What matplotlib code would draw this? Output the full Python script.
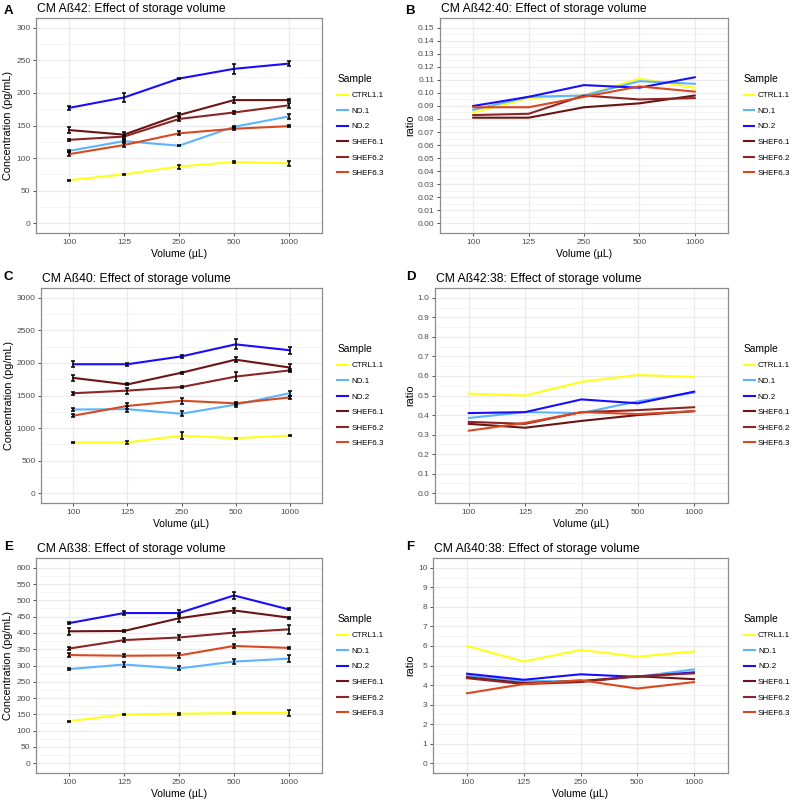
import numpy as np
import matplotlib
matplotlib.use("Agg")
import matplotlib.pyplot as plt

plt.rcParams['font.family'] = ['Liberation Sans', 'DejaVu Sans']

# dane
volumes = ["100", "125", "250", "500", "1000"]
samples = ["CTRL1.1", "ND.1", "ND.2", "SHEF6.1", "SHEF6.2", "SHEF6.3"]
colors = ["#FFFF1A", "#5DB3FF", "#1A0DFF", "#6B1414", "#8C2525", "#D9481F"]

# A: Ab42 (pg/mL)
ab42 = [
    [66, 75, 87, 94, 92],
    [111, 126, 119, 148, 164],
    [177, 193, 222, 237, 245],
    [143, 136, 166, 189, 189],
    [128, 133, 160, 170, 181],
    [106, 120, 138, 145, 149],
]
ab42_err = [
    [1, 1, 3, 1, 4],
    [2, 2, 1, 2, 4],
    [3, 7, 1, 8, 4],
    [4, 4, 3, 5, 2],
    [2, 3, 3, 2, 4],
    [3, 3, 3, 2, 2],
]

# B: Ab42:40
r42_40 = [
    [0.085, 0.096, 0.098, 0.111, 0.104],
    [0.087, 0.097, 0.098, 0.109, 0.107],
    [0.090, 0.097, 0.106, 0.104, 0.112],
    [0.081, 0.081, 0.089, 0.092, 0.098],
    [0.083, 0.084, 0.098, 0.095, 0.096],
    [0.089, 0.089, 0.097, 0.105, 0.101],
]

# C: Ab40 (pg/mL)
ab40 = [
    [780, 780, 885, 845, 885],
    [1285, 1290, 1220, 1360, 1535],
    [1980, 1980, 2100, 2285, 2195],
    [1770, 1670, 1850, 2050, 1930],
    [1535, 1575, 1630, 1790, 1885],
    [1190, 1340, 1420, 1380, 1470],
]
ab40_err = [
    [10, 25, 55, 10, 10],
    [25, 50, 35, 30, 35],
    [45, 20, 25, 75, 55],
    [40, 15, 15, 35, 55],
    [20, 45, 15, 75, 25],
    [20, 45, 45, 20, 25],
]

# D: Ab42:38
r42_38 = [
    [0.51, 0.50, 0.57, 0.605, 0.595],
    [0.385, 0.415, 0.41, 0.47, 0.515],
    [0.41, 0.415, 0.48, 0.46, 0.52],
    [0.355, 0.335, 0.37, 0.40, 0.42],
    [0.365, 0.355, 0.415, 0.425, 0.44],
    [0.32, 0.36, 0.415, 0.405, 0.42],
]

# E: Ab38 (pg/mL)
ab38 = [
    [129, 150, 152, 154, 154],
    [289, 303, 291, 312, 321],
    [430, 461, 461, 515, 472],
    [405, 406, 445, 469, 447],
    [352, 378, 386, 401, 411],
    [332, 330, 331, 360, 354],
]
ab38_err = [
    [2, 2, 3, 4, 9],
    [2, 8, 6, 7, 11],
    [3, 6, 10, 12, 3],
    [11, 2, 12, 8, 3],
    [4, 7, 9, 10, 14],
    [6, 5, 8, 7, 2],
]

# F: Ab40:38
r40_38 = [
    [6.0, 5.2, 5.8, 5.45, 5.72],
    [4.48, 4.2, 4.2, 4.42, 4.8],
    [4.58, 4.27, 4.55, 4.42, 4.65],
    [4.4, 4.1, 4.2, 4.45, 4.3],
    [4.35, 4.05, 4.15, 4.45, 4.6],
    [3.58, 4.05, 4.25, 3.82, 4.15],
]

W, H = 797, 801
fig = plt.figure(figsize=(W / 100, H / 100), dpi=100)


def px_axes(left, right, top, bottom):
    return fig.add_axes([left / W, 1 - bottom / H, (right - left) / W, (bottom - top) / H])


def panel(ax, letter, lpos, title, data, ylabel, ymax, ystep, fmt, err=None):
    x = np.arange(1, len(volumes) + 1)
    for i, s in enumerate(samples):
        ax.plot(x, data[i], color=colors[i], lw=1.5, label=s, zorder=3)
    if err is not None:
        for i in range(len(samples)):
            ax.errorbar(x, data[i], yerr=err[i], fmt="none", ecolor="black",
                        elinewidth=1.1, capsize=1.6, capthick=1.1, zorder=4)
    ax.set_xlim(0.4, 5.6)
    pad = ymax * 0.05
    ax.set_ylim(-pad, ymax + pad)
    ax.set_xticks(x)
    ax.set_xticklabels(volumes)
    yt = np.arange(0, ymax + ystep / 2, ystep)
    ax.set_yticks(yt)
    ax.set_yticklabels([fmt.format(v) for v in yt])
    ax.set_yticks(yt[:-1] + ystep / 2, minor=True)
    ax.grid(True, which="major", color="#EBEBEB", lw=0.9, zorder=0)
    ax.grid(True, which="minor", axis="y", color="#F2F2F2", lw=0.5, zorder=0)
    ax.set_axisbelow(True)
    ax.tick_params(axis="both", which="major", length=2.5, width=0.6, color="#333333",
                   labelsize=6.0, labelcolor="#4D4D4D", pad=1.5)
    ax.tick_params(axis="y", which="minor", length=0)
    for sp in ax.spines.values():
        sp.set_color("#8C8C8C")
        sp.set_linewidth(0.9)
    ax.set_xlabel("Volume (\u00b5L)", fontsize=7.5, labelpad=2.5)
    ax.set_ylabel(ylabel, fontsize=7.8, labelpad=2)
    ax.set_title(title, fontsize=8.7, loc="left", pad=4, x=0.005)
    fig.text(lpos[0] / W, 1 - lpos[1] / H, letter, fontsize=9.5, fontweight="bold",
             va="center", ha="left")
    leg = ax.legend(loc="center left", bbox_to_anchor=(1.04, 0.5), frameon=False,
                    title="Sample", fontsize=5.8, title_fontsize=7.4, handlelength=1.35,
                    handletextpad=0.4, labelspacing=0.98, borderpad=0)
    leg._legend_box.align = "left"


axA = px_axes(36, 322, 18, 233)
panel(axA, "A", (4, 11), "CM A\u00df42: Effect of storage volume", ab42,
      "Concentration (pg/mL)", 300, 50, "{:.0f}", ab42_err)
axB = px_axes(440, 728, 18, 233)
panel(axB, "B", (405, 11), "CM A\u00df42:40: Effect of storage volume", r42_40,
      "ratio", 0.15, 0.01, "{:.2f}")
axC = px_axes(41, 322, 288, 503)
panel(axC, "C", (4, 277), "CM A\u00df40: Effect of storage volume", ab40,
      "Concentration (pg/mL)", 3000, 500, "{:.0f}", ab40_err)
axD = px_axes(435, 728, 288, 503)
panel(axD, "D", (406, 277), "CM A\u00df42:38: Effect of storage volume", r42_38,
      "ratio", 1.0, 0.1, "{:.1f}")
axE = px_axes(36, 322, 558, 773)
panel(axE, "E", (4, 547), "CM A\u00df38: Effect of storage volume", ab38,
      "Concentration (pg/mL)", 600, 50, "{:.0f}", ab38_err)
axF = px_axes(433, 728, 558, 773)
panel(axF, "F", (406, 547), "CM A\u00df40:38: Effect of storage volume", r40_38,
      "ratio", 10, 1, "{:.0f}")

fig.savefig("out.png", dpi=100)
